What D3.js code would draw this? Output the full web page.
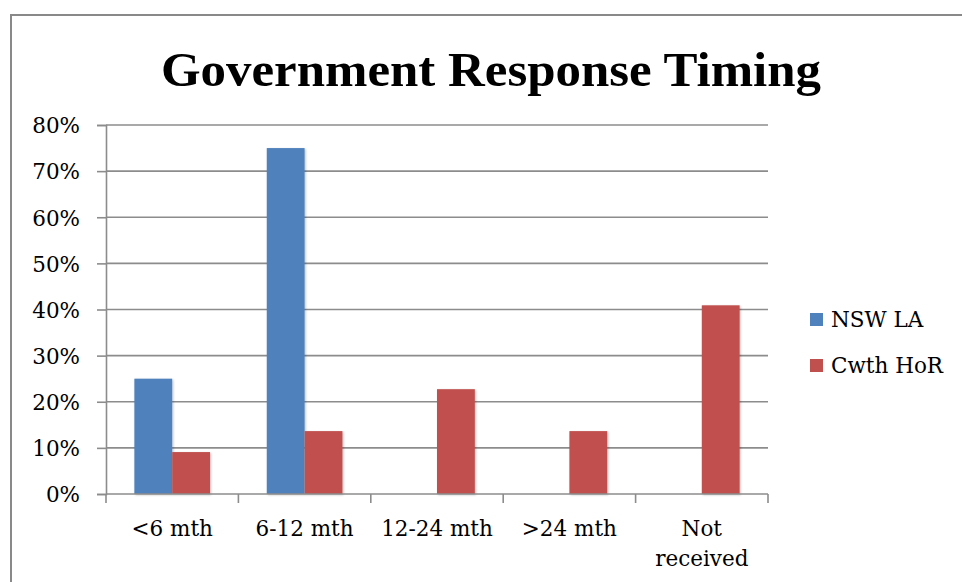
<!DOCTYPE html>
<html>
<head>
<meta charset="utf-8">
<script src="https://cdn.jsdelivr.net/npm/d3@7"></script>
<style>
  html, body { margin: 0; padding: 0; background: #fff; }
  svg { display: block; }
  text { fill: #000; }
</style>
</head>
<body>
<svg id="chart" width="962" height="582"></svg>
<script>
// Response timing categories and share of reports per parliament
const categories = ["<6 mth", "6-12 mth", "12-24 mth", ">24 mth", "Not received"];
const seriesNames = ["NSW LA", "Cwth HoR"];
const nswLA = [0.25, 0.75, 0, 0, 0];
const cwthHoR = [2 / 22, 3 / 22, 5 / 22, 3 / 22, 9 / 22];
const yTicks = [0, 0.1, 0.2, 0.3, 0.4, 0.5, 0.6, 0.7, 0.8];
const colors = ["#4F81BD", "#C0504D"];

const svg = d3.select("#chart");
const labelFont = "'DejaVu Serif', 'Liberation Serif', serif";
const labelSize = 21.5;

// Outer chart frame (runs off the right and bottom edges)
svg.append("rect")
  .attr("x", 11).attr("y", 15)
  .attr("width", 1000).attr("height", 620)
  .attr("fill", "none")
  .attr("stroke", "#898989")
  .attr("stroke-width", 2);

// Title
svg.append("text")
  .attr("x", 491).attr("y", 86)
  .attr("text-anchor", "middle")
  .style("font-family", "'Liberation Serif', serif")
  .style("font-size", "48px")
  .style("font-weight", "bold")
  .attr("textLength", 660)
  .attr("lengthAdjust", "spacingAndGlyphs")
  .text("Government Response Timing");

const plot = { left: 106, right: 768, top: 125, bottom: 494 };

const x0 = d3.scaleBand()
  .domain(categories)
  .range([plot.left, plot.right])
  .paddingInner(1.5 / 3.5)
  .paddingOuter(0.75 / 3.5);

const x1 = d3.scaleBand()
  .domain(seriesNames)
  .range([0, x0.bandwidth()])
  .padding(0);

const y = d3.scaleLinear()
  .domain([0, 0.8])
  .range([plot.bottom, plot.top]);

const grid = "#8c8c8c";

// Horizontal gridlines
svg.append("g")
  .selectAll("line")
  .data(yTicks.filter(d => d > 0))
  .join("line")
  .attr("x1", plot.left).attr("x2", plot.right)
  .attr("y1", d => y(d)).attr("y2", d => y(d))
  .attr("stroke", grid).attr("stroke-width", 1.6);

// Soft shadow under the bars
const defs = svg.append("defs");
const f = defs.append("filter").attr("id", "shadow")
  .attr("x", "-20%").attr("y", "-5%").attr("width", "140%").attr("height", "110%");
f.append("feDropShadow")
  .attr("dx", 1).attr("dy", 1).attr("stdDeviation", 1.2)
  .attr("flood-color", "#000").attr("flood-opacity", 0.25);

const rows = categories.map((c, i) => ({ cat: c, values: [nswLA[i], cwthHoR[i]] }));

svg.append("g")
  .selectAll("g")
  .data(rows)
  .join("g")
  .attr("transform", d => `translate(${x0(d.cat)},0)`)
  .selectAll("rect")
  .data(d => d.values.map((v, k) => ({ name: seriesNames[k], v, k })).filter(d => d.v > 0))
  .join("rect")
  .attr("x", d => x1(d.name))
  .attr("y", d => y(d.v))
  .attr("width", x1.bandwidth())
  .attr("height", d => y(0) - y(d.v))
  .attr("fill", d => colors[d.k])
  .attr("filter", "url(#shadow)");

// Y axis
const yAxis = d3.axisLeft(y)
  .tickValues(yTicks)
  .tickFormat(d3.format(".0%"))
  .tickSize(9)
  .tickPadding(17);
const gy = svg.append("g")
  .attr("transform", `translate(${plot.left},0)`)
  .call(yAxis);
gy.select(".domain").attr("stroke", grid).attr("stroke-width", 1.6);
gy.selectAll(".tick line").attr("stroke", grid).attr("stroke-width", 1.6);
gy.selectAll(".tick text")
  .style("font-family", labelFont)
  .style("font-size", labelSize + "px")
  .attr("fill", "#000")
  .attr("dy", "0.36em");

// X axis with ticks on category boundaries
const gx = svg.append("g").attr("transform", `translate(0,${plot.bottom})`);
gx.append("line")
  .attr("x1", plot.left).attr("x2", plot.right)
  .attr("stroke", grid).attr("stroke-width", 1.6);
const step = x0.step();
gx.selectAll("line.tick")
  .data(d3.range(categories.length + 1))
  .join("line")
  .attr("class", "tick")
  .attr("x1", i => plot.left + i * step).attr("x2", i => plot.left + i * step)
  .attr("y1", 0).attr("y2", 9)
  .attr("stroke", grid).attr("stroke-width", 1.6);

const labelLines = { "Not received": ["Not", "received"] };
gx.selectAll("text")
  .data(categories)
  .join("text")
  .attr("text-anchor", "middle")
  .style("font-family", labelFont)
  .style("font-size", labelSize + "px")
  .attr("transform", d => `translate(${x0(d) + x0.bandwidth() / 2},0)`)
  .each(function (d) {
    const lines = labelLines[d] || [d];
    d3.select(this).selectAll("tspan")
      .data(lines)
      .join("tspan")
      .attr("x", 0)
      .attr("y", (l, i) => 42 + i * 30)
      .text(l => l);
  });

// Legend
const legend = svg.append("g").attr("transform", "translate(810,313)");
const items = legend.selectAll("g")
  .data(seriesNames)
  .join("g")
  .attr("transform", (d, i) => `translate(0,${i * 46})`);
items.append("rect")
  .attr("width", 13).attr("height", 13)
  .attr("fill", (d, i) => colors[i]);
items.append("text")
  .attr("x", 21).attr("y", 14)
  .style("font-family", labelFont)
  .style("font-size", labelSize + "px")
  .text(d => d);
</script>
</body>
</html>
